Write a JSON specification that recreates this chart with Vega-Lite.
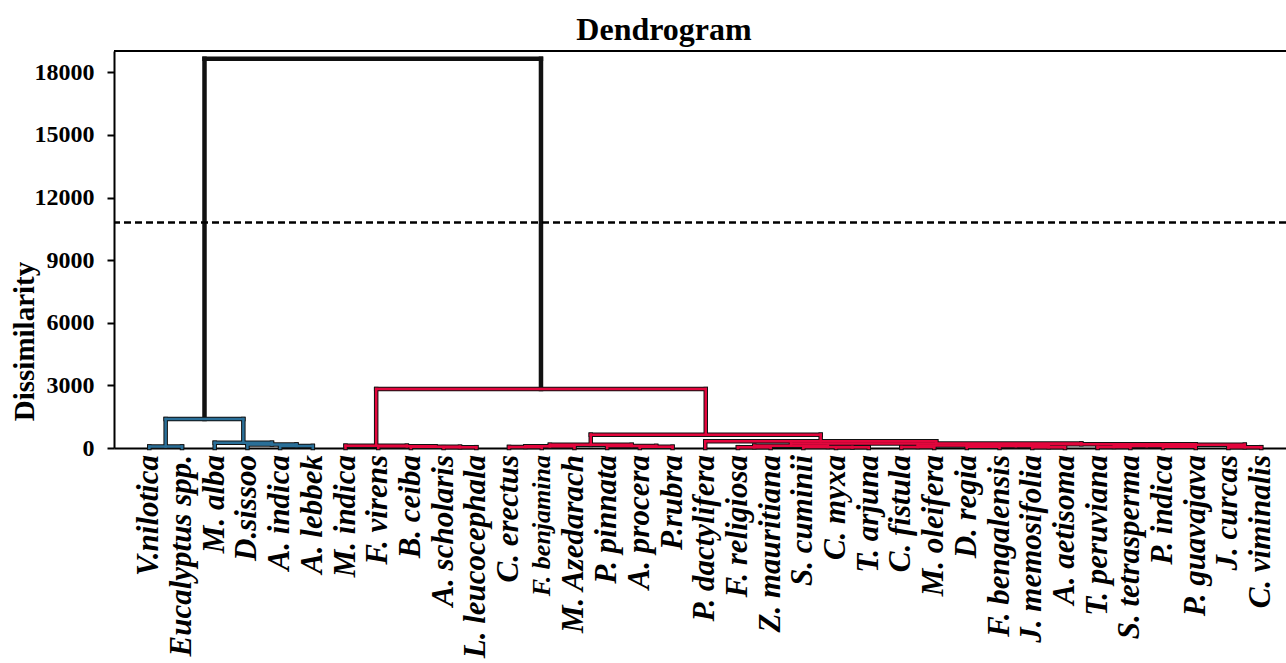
{
  "$schema": "https://vega.github.io/schema/vega-lite/v6.json",
  "width": 1172,
  "height": 397,
  "autosize": {"type": "none"},
  "padding": {"left": 114, "top": 51, "right": 0, "bottom": 215},
  "background": "white",
  "config": {"view": {"stroke": null}, "font": "Liberation Serif"},
  "title": {"text": "Dendrogram", "font": "Liberation Serif", "fontSize": 32, "fontWeight": "bold", "color": "black", "anchor": "middle", "dx": -36, "dy": 34, "offset": 12, "baseline": "alphabetic"},
  "datasets": {
    "seg": [
      {"x":0,"x2":0,"y":0,"y2":70,"g":"blue"},
      {"x":1,"x2":1,"y":0,"y2":70,"g":"blue"},
      {"x":0,"x2":1,"y":70,"y2":70,"g":"blue"},
      {"x":4,"x2":4,"y":0,"y2":100,"g":"blue"},
      {"x":5,"x2":5,"y":0,"y2":100,"g":"blue"},
      {"x":4,"x2":5,"y":100,"y2":100,"g":"blue"},
      {"x":3,"x2":3,"y":0,"y2":170,"g":"blue"},
      {"x":4.5,"x2":4.5,"y":100,"y2":170,"g":"blue"},
      {"x":3,"x2":4.5,"y":170,"y2":170,"g":"blue"},
      {"x":2,"x2":2,"y":0,"y2":250,"g":"blue"},
      {"x":3.75,"x2":3.75,"y":170,"y2":250,"g":"blue"},
      {"x":2,"x2":3.75,"y":250,"y2":250,"g":"blue"},
      {"x":0.5,"x2":0.5,"y":70,"y2":1388,"g":"blue"},
      {"x":2.875,"x2":2.875,"y":250,"y2":1388,"g":"blue"},
      {"x":0.5,"x2":2.875,"y":1388,"y2":1388,"g":"blue"},
      {"x":1.6875,"x2":1.6875,"y":1388,"y2":18651,"g":"black"},
      {"x":11.977,"x2":11.977,"y":2824,"y2":18651,"g":"black"},
      {"x":1.6875,"x2":11.977,"y":18651,"y2":18651,"g":"black"},
      {"x":9,"x2":9,"y":0,"y2":40,"g":"red"},
      {"x":10,"x2":10,"y":0,"y2":40,"g":"red"},
      {"x":9,"x2":10,"y":40,"y2":40,"g":"red"},
      {"x":8,"x2":8,"y":0,"y2":60,"g":"red"},
      {"x":9.5,"x2":9.5,"y":40,"y2":60,"g":"red"},
      {"x":8,"x2":9.5,"y":60,"y2":60,"g":"red"},
      {"x":7,"x2":7,"y":0,"y2":80,"g":"red"},
      {"x":8.75,"x2":8.75,"y":60,"y2":80,"g":"red"},
      {"x":7,"x2":8.75,"y":80,"y2":80,"g":"red"},
      {"x":6,"x2":6,"y":0,"y2":110,"g":"red"},
      {"x":7.875,"x2":7.875,"y":80,"y2":110,"g":"red"},
      {"x":6,"x2":7.875,"y":110,"y2":110,"g":"red"},
      {"x":15,"x2":15,"y":0,"y2":60,"g":"red"},
      {"x":16,"x2":16,"y":0,"y2":60,"g":"red"},
      {"x":15,"x2":16,"y":60,"y2":60,"g":"red"},
      {"x":14,"x2":14,"y":0,"y2":100,"g":"red"},
      {"x":15.5,"x2":15.5,"y":60,"y2":100,"g":"red"},
      {"x":14,"x2":15.5,"y":100,"y2":100,"g":"red"},
      {"x":11,"x2":11,"y":0,"y2":50,"g":"red"},
      {"x":12,"x2":12,"y":0,"y2":50,"g":"red"},
      {"x":11,"x2":12,"y":50,"y2":50,"g":"red"},
      {"x":13,"x2":13,"y":0,"y2":80,"g":"red"},
      {"x":11.5,"x2":11.5,"y":50,"y2":80,"g":"red"},
      {"x":11.5,"x2":13,"y":80,"y2":80,"g":"red"},
      {"x":12.25,"x2":12.25,"y":80,"y2":150,"g":"red"},
      {"x":14.75,"x2":14.75,"y":100,"y2":150,"g":"red"},
      {"x":12.25,"x2":14.75,"y":150,"y2":150,"g":"red"},
      {"x":17,"x2":17,"y":0,"y2":320,"g":"red"},
      {"x":21,"x2":21,"y":0,"y2":30,"g":"red"},
      {"x":22,"x2":22,"y":0,"y2":30,"g":"red"},
      {"x":21,"x2":22,"y":30,"y2":30,"g":"red"},
      {"x":20,"x2":20,"y":0,"y2":50,"g":"red"},
      {"x":21.5,"x2":21.5,"y":30,"y2":50,"g":"red"},
      {"x":20,"x2":21.5,"y":50,"y2":50,"g":"red"},
      {"x":18,"x2":18,"y":0,"y2":40,"g":"red"},
      {"x":19,"x2":19,"y":0,"y2":40,"g":"red"},
      {"x":18,"x2":19,"y":40,"y2":40,"g":"red"},
      {"x":18.5,"x2":18.5,"y":40,"y2":110,"g":"red"},
      {"x":20.75,"x2":20.75,"y":50,"y2":110,"g":"red"},
      {"x":18.5,"x2":20.75,"y":110,"y2":110,"g":"red"},
      {"x":33,"x2":33,"y":0,"y2":40,"g":"red"},
      {"x":34,"x2":34,"y":0,"y2":40,"g":"red"},
      {"x":33,"x2":34,"y":40,"y2":40,"g":"red"},
      {"x":31,"x2":31,"y":0,"y2":60,"g":"red"},
      {"x":32,"x2":32,"y":0,"y2":60,"g":"red"},
      {"x":31,"x2":32,"y":60,"y2":60,"g":"red"},
      {"x":29,"x2":29,"y":0,"y2":50,"g":"red"},
      {"x":30,"x2":30,"y":0,"y2":50,"g":"red"},
      {"x":29,"x2":30,"y":50,"y2":50,"g":"red"},
      {"x":29.5,"x2":29.5,"y":50,"y2":90,"g":"red"},
      {"x":31.5,"x2":31.5,"y":60,"y2":90,"g":"red"},
      {"x":29.5,"x2":31.5,"y":90,"y2":90,"g":"red"},
      {"x":30.5,"x2":30.5,"y":90,"y2":160,"g":"red"},
      {"x":33.5,"x2":33.5,"y":40,"y2":160,"g":"red"},
      {"x":30.5,"x2":33.5,"y":160,"y2":160,"g":"red"},
      {"x":23,"x2":23,"y":0,"y2":50,"g":"red"},
      {"x":24,"x2":24,"y":0,"y2":50,"g":"red"},
      {"x":23,"x2":24,"y":50,"y2":50,"g":"red"},
      {"x":25,"x2":25,"y":0,"y2":60,"g":"red"},
      {"x":26,"x2":26,"y":0,"y2":60,"g":"red"},
      {"x":25,"x2":26,"y":60,"y2":60,"g":"red"},
      {"x":27,"x2":27,"y":0,"y2":40,"g":"red"},
      {"x":28,"x2":28,"y":0,"y2":40,"g":"red"},
      {"x":27,"x2":28,"y":40,"y2":40,"g":"red"},
      {"x":25.5,"x2":25.5,"y":60,"y2":90,"g":"red"},
      {"x":27.5,"x2":27.5,"y":40,"y2":90,"g":"red"},
      {"x":25.5,"x2":27.5,"y":90,"y2":90,"g":"red"},
      {"x":23.5,"x2":23.5,"y":50,"y2":120,"g":"red"},
      {"x":26.5,"x2":26.5,"y":90,"y2":120,"g":"red"},
      {"x":23.5,"x2":26.5,"y":120,"y2":120,"g":"red"},
      {"x":25,"x2":25,"y":120,"y2":180,"g":"red"},
      {"x":32,"x2":32,"y":160,"y2":180,"g":"red"},
      {"x":25,"x2":32,"y":180,"y2":180,"g":"red"},
      {"x":19.625,"x2":19.625,"y":110,"y2":220,"g":"red"},
      {"x":28.5,"x2":28.5,"y":180,"y2":220,"g":"red"},
      {"x":19.625,"x2":28.5,"y":220,"y2":220,"g":"red"},
      {"x":24.0625,"x2":24.0625,"y":220,"y2":320,"g":"red"},
      {"x":17,"x2":24.0625,"y":320,"y2":320,"g":"red"},
      {"x":13.5,"x2":13.5,"y":150,"y2":640,"g":"red"},
      {"x":20.53,"x2":20.53,"y":320,"y2":640,"g":"red"},
      {"x":13.5,"x2":20.53,"y":640,"y2":640,"g":"red"},
      {"x":6.9375,"x2":6.9375,"y":110,"y2":2824,"g":"red"},
      {"x":17.016,"x2":17.016,"y":640,"y2":2824,"g":"red"},
      {"x":6.9375,"x2":17.016,"y":2824,"y2":2824,"g":"red"}
    ],
    "leaves": [
      {"i":0,"name":"V.nilotica"},
      {"i":1,"name":"Eucalyptus spp."},
      {"i":2,"name":"M. alba"},
      {"i":3,"name":"D.sissoo"},
      {"i":4,"name":"A. indica"},
      {"i":5,"name":"A. lebbek"},
      {"i":6,"name":"M. indica"},
      {"i":7,"name":"F. virens"},
      {"i":8,"name":"B. ceiba"},
      {"i":9,"name":"A. scholaris"},
      {"i":10,"name":"L. leucocephala"},
      {"i":11,"name":"C. erectus"},
      {"i":12,"name":"F. benjamina"},
      {"i":13,"name":"M. Azedarach"},
      {"i":14,"name":"P. pinnata"},
      {"i":15,"name":"A. procera"},
      {"i":16,"name":"P.rubra"},
      {"i":17,"name":"P. dactylifera"},
      {"i":18,"name":"F. religiosa"},
      {"i":19,"name":"Z. mauritiana"},
      {"i":20,"name":"S. cuminii"},
      {"i":21,"name":"C. myxa"},
      {"i":22,"name":"T. arjuna"},
      {"i":23,"name":"C. fistula"},
      {"i":24,"name":"M. oleifera"},
      {"i":25,"name":"D. regia"},
      {"i":26,"name":"F. bengalensis"},
      {"i":27,"name":"J. memosifolia"},
      {"i":28,"name":"A. aetisoma"},
      {"i":29,"name":"T. peruviana"},
      {"i":30,"name":"S. tetrasperma"},
      {"i":31,"name":"P. indica"},
      {"i":32,"name":"P. guavajava"},
      {"i":33,"name":"J. curcas"},
      {"i":34,"name":"C. viminalis"}
    ],
    "cut": [{"level": 10800}],
    "frame": [{"level": 19020}]
  },
  "layer": [
    {
      "data": {"name": "seg"},
      "mark": {"type": "rule", "color": "#111111", "strokeWidth": 4.5, "strokeCap": "square"},
      "encoding": {
        "x": {
          "field": "x", "type": "quantitative",
          "scale": {"domain": [-1.08, 34.76], "nice": false, "zero": false},
          "axis": {
            "labels": false,
            "ticks": false,
            "tickSize": 0,
            "grid": false,
            "domainColor": "black",
            "domainWidth": 2,
            "title": null
          }
        },
        "x2": {"field": "x2"},
        "y": {
          "field": "y", "type": "quantitative",
          "scale": {"domain": [0, 19020], "nice": false},
          "axis": {
            "values": [0, 3000, 6000, 9000, 12000, 15000, 18000],
            "format": "d",
            "grid": false,
            "domainColor": "black",
            "domainWidth": 2,
            "tickColor": "black",
            "tickWidth": 2,
            "tickSize": 7,
            "labelFont": "Liberation Serif",
            "labelFontSize": 24,
            "labelFontWeight": "bold",
            "labelColor": "black",
            "labelPadding": 13,
            "title": "Dissimilarity",
            "titleFont": "Liberation Serif",
            "titleFontSize": 29,
            "titleFontWeight": "bold",
            "titleColor": "black",
            "titleAngle": -90,
            "titleAlign": "center",
            "titleBaseline": "alphabetic",
            "titleX": -81,
            "titleY": 290
          }
        },
        "y2": {"field": "y2"}
      }
    },
    {
      "data": {"name": "seg"},
      "transform": [{"filter": "datum.g != 'black'"}],
      "mark": {"type": "rule", "strokeWidth": 2.5, "strokeCap": "square"},
      "encoding": {
        "x": {"field": "x", "type": "quantitative"},
        "x2": {"field": "x2"},
        "y": {"field": "y", "type": "quantitative"},
        "y2": {"field": "y2"},
        "color": {"field": "g", "type": "nominal", "scale": {"domain": ["blue", "red"], "range": ["#2a6f98", "#e3063d"]}, "legend": null}
      }
    },
    {
      "data": {"name": "cut"},
      "mark": {"type": "rule", "color": "black", "strokeWidth": 2.5, "strokeDash": [7, 4]},
      "encoding": {"y": {"field": "level", "type": "quantitative"}}
    },
    {
      "data": {"name": "frame"},
      "mark": {"type": "rule", "color": "black", "strokeWidth": 2},
      "encoding": {"y": {"field": "level", "type": "quantitative"}}
    },
    {
      "data": {"name": "leaves"},
      "mark": {"type": "text", "angle": 270, "align": "right", "baseline": "middle", "dx": -7, "font": "Liberation Serif", "fontWeight": "bold", "fontStyle": "italic", "color": "black", "clip": false},
      "encoding": {
        "x": {"field": "i", "type": "quantitative"},
        "y": {"datum": 0, "type": "quantitative"},
        "text": {"field": "name", "type": "nominal"},
        "size": {"condition": {"test": "datum.name == 'F. benjamina'", "value": 26}, "value": 31}
      }
    }
  ]
}
